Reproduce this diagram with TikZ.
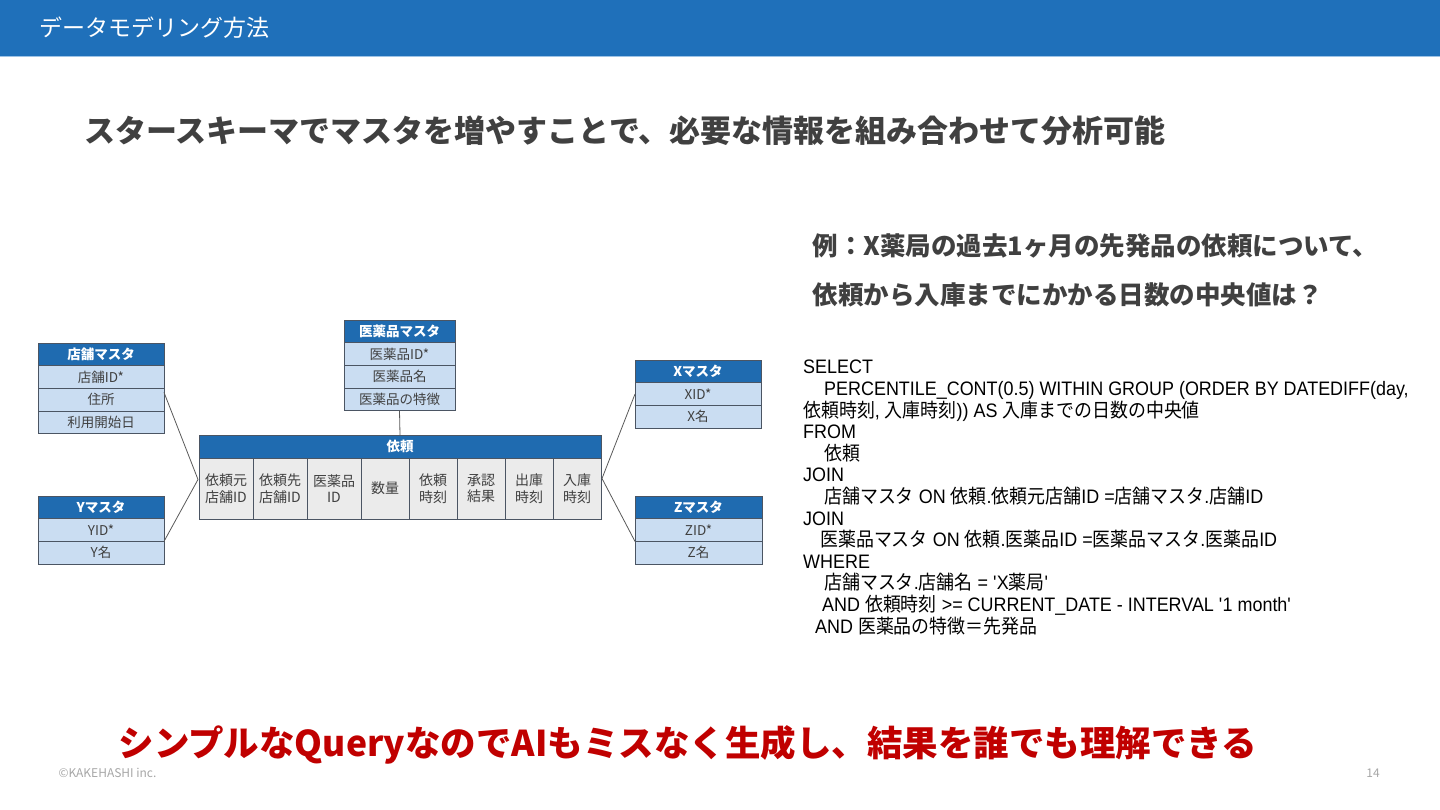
\documentclass[tikz,border=0pt]{standalone}
\usepackage{fontspec}
\setmainfont{Noto Sans CJK JP}
\newfontfamily\sqlfont[FakeStretch=0.92]{Liberation Sans}
\newfontfamily\sqljp[FakeStretch=0.92]{Noto Sans CJK JP}
\usepackage{tikz}
\usetikzlibrary{positioning, calc}
\definecolor{barblue}{HTML}{1F70BA}
\definecolor{barline}{HTML}{9DC3E6}
\definecolor{tblblue}{HTML}{1F6BB0}
\definecolor{rowblue}{HTML}{CADDF2}
\definecolor{cellgray}{HTML}{EBEBEB}
\definecolor{tblborder}{HTML}{4B5563}
\definecolor{inkgray}{HTML}{404040}
\definecolor{alertred}{HTML}{C00000}
\definecolor{notegray}{HTML}{A6A6A6}

\tikzset{
  tblhead/.style={draw=tblborder, fill=tblblue, text=white, line width=0.8pt, outer sep=0pt,
    font=\fontsize{13.5}{16}\selectfont\bfseries, minimum height=22.7pt, inner sep=0pt},
  tblrow/.style={draw=tblborder, fill=rowblue, text=inkgray, line width=0.8pt, outer sep=0pt,
    font=\fontsize{13.5}{16}\selectfont, minimum height=22.7pt, inner sep=0pt},
  fieldcell/.style={draw=tblborder, fill=cellgray, text=inkgray, line width=0.8pt, outer sep=0pt,
    font=\fontsize{14}{16.5}\selectfont, minimum height=61pt, inner sep=0pt, align=center},
  link/.style={draw=black!65, line width=0.8pt},
}

\begin{document}
\begin{tikzpicture}[x=1pt, y=-1pt]
  \useasboundingbox (0,0) rectangle (1440,810);
  % title bar
  \fill[barblue] (0,0) rectangle (1440,56);
  \fill[barline] (0,56) rectangle (1440,57.5);
  \node[anchor=west, text=white, font=\fontsize{23}{28}\selectfont] (title) at (36,28) {データモデリング方法};

  \node[anchor=west, text=inkgray, font=\fontsize{31}{36}\selectfont\bfseries] (lead) at (81,131)
    {スタースキーマでマスタを増やすことで、必要な情報を組み合わせて分析可能};

  \node[anchor=west, text=inkgray, font=\fontsize{25.5}{30}\selectfont\bfseries] (ask1) at (809,246)
    {例：X薬局の過去1ヶ月の先発品の依頼について、};
  \node[anchor=west, text=inkgray, font=\fontsize{25.5}{30}\selectfont\bfseries] (ask2) at (809,295)
    {依頼から入庫までにかかる日数の中央値は？};

  % master tables
  \node[tblhead, minimum width=126pt, anchor=north west] (tenpo) at (38,343) {店舗マスタ};
  \node[tblrow, minimum width=126pt, below=0pt of tenpo] (tenpo1) {店舗ID*};
  \node[tblrow, minimum width=126pt, below=0pt of tenpo1] (tenpo2) {住所};
  \node[tblrow, minimum width=126pt, below=0pt of tenpo2] (tenpo3) {利用開始日};

  \node[tblhead, minimum width=126pt, anchor=north west] (ymst) at (38,496) {Yマスタ};
  \node[tblrow, minimum width=126pt, below=0pt of ymst] (ymst1) {YID*};
  \node[tblrow, minimum width=126pt, below=0pt of ymst1] (ymst2) {Y名};

  \node[tblhead, minimum width=111pt, anchor=north west] (iyaku) at (344,320) {医薬品マスタ};
  \node[tblrow, minimum width=111pt, below=0pt of iyaku] (iyaku1) {医薬品ID*};
  \node[tblrow, minimum width=111pt, below=0pt of iyaku1] (iyaku2) {医薬品名};
  \node[tblrow, minimum width=111pt, below=0pt of iyaku2] (iyaku3) {医薬品の特徴};

  \node[tblhead, minimum width=126pt, anchor=north west] (xmst) at (635,360) {Xマスタ};
  \node[tblrow, minimum width=126pt, below=0pt of xmst] (xmst1) {XID*};
  \node[tblrow, minimum width=126pt, below=0pt of xmst1] (xmst2) {X名};

  \node[tblhead, minimum width=127pt, anchor=north west] (zmst) at (635,496) {Zマスタ};
  \node[tblrow, minimum width=127pt, below=0pt of zmst] (zmst1) {ZID*};
  \node[tblrow, minimum width=127pt, below=0pt of zmst1] (zmst2) {Z名};

  % fact table
  \node[tblhead, minimum width=402pt, minimum height=23pt, anchor=north west] (irai) at (199,435) {依頼};
  \node[fieldcell, minimum width=54pt, anchor=north west] (cell1) at (irai.south west) {依頼元\\店舗ID};
  \node[fieldcell, minimum width=54pt, right=0pt of cell1] (cell2) {依頼先\\店舗ID};
  \node[fieldcell, minimum width=54pt, right=0pt of cell2] (cell3) {医薬品\\ID};
  \node[fieldcell, minimum width=48pt, right=0pt of cell3] (cell4) {数量};
  \node[fieldcell, minimum width=48pt, right=0pt of cell4] (cell5) {依頼\\時刻};
  \node[fieldcell, minimum width=48pt, right=0pt of cell5] (cell6) {承認\\結果};
  \node[fieldcell, minimum width=48pt, right=0pt of cell6] (cell7) {出庫\\時刻};
  \node[fieldcell, minimum width=48pt, right=0pt of cell7] (cell8) {入庫\\時刻};

  % joins
  \coordinate (leftjoin) at ($(cell1.west)+(-1,-9)$);
  \coordinate (rightjoin) at ($(cell8.east)+(1,-10)$);
  \draw[link] ($(tenpo2.north east)+(0,4)$) -- (leftjoin) -- (ymst1.south east);
  \draw[link] (xmst1.west) -- (rightjoin) -- (zmst1.south west);
  \draw[link] (iyaku3.south) -- (irai.north);

  % query
  \node[anchor=north west, inner sep=0pt, align=left, text=black,
        font=\sqlfont\fontsize{19.5}{21.6}\selectfont] (sql) at (803,360) {%
    SELECT\\
    \hspace*{21pt}PERCENTILE\_CONT(0.5) WITHIN GROUP (ORDER BY DATEDIFF(day,\\
    {\sqljp 依頼時刻}, {\sqljp 入庫時刻})) AS {\sqljp 入庫までの日数の中央値}\\
    FROM\\
    \hspace*{21pt}{\sqljp 依頼}\\
    JOIN\\
    \hspace*{21pt}{\sqljp 店舗マスタ} ON {\sqljp 依頼}.{\sqljp 依頼元店舗}ID ={\sqljp 店舗マスタ}.{\sqljp 店舗}ID\\
    JOIN\\
    \hspace*{17pt}{\sqljp 医薬品マスタ} ON {\sqljp 依頼}.{\sqljp 医薬品}ID ={\sqljp 医薬品マスタ}.{\sqljp 医薬品}ID\\
    WHERE\\
    \hspace*{21pt}{\sqljp 店舗マスタ}.{\sqljp 店舗名} = \textquotesingle X{\sqljp 薬局}\textquotesingle\\
    \hspace*{19pt}AND {\sqljp 依頼時刻} >= CURRENT\_DATE - INTERVAL \textquotesingle 1 month\textquotesingle\\
    \hspace*{12pt}AND {\sqljp 医薬品の特徴＝先発品}};

  \node[anchor=west, text=alertred, font=\fontsize{35.5}{42}\selectfont\bfseries] (punch) at (115,745)
    {シンプルなQueryなのでAIもミスなく生成し、結果を誰でも理解できる};

  \node[anchor=west, text=notegray, font=\fontsize{12}{14}\selectfont] (copy) at (55,773) {©KAKEHASHI inc.};
  \node[text=notegray, font=\fontsize{12}{14}\selectfont] (page) at (1373,773) {14};
\end{tikzpicture}
\end{document}
